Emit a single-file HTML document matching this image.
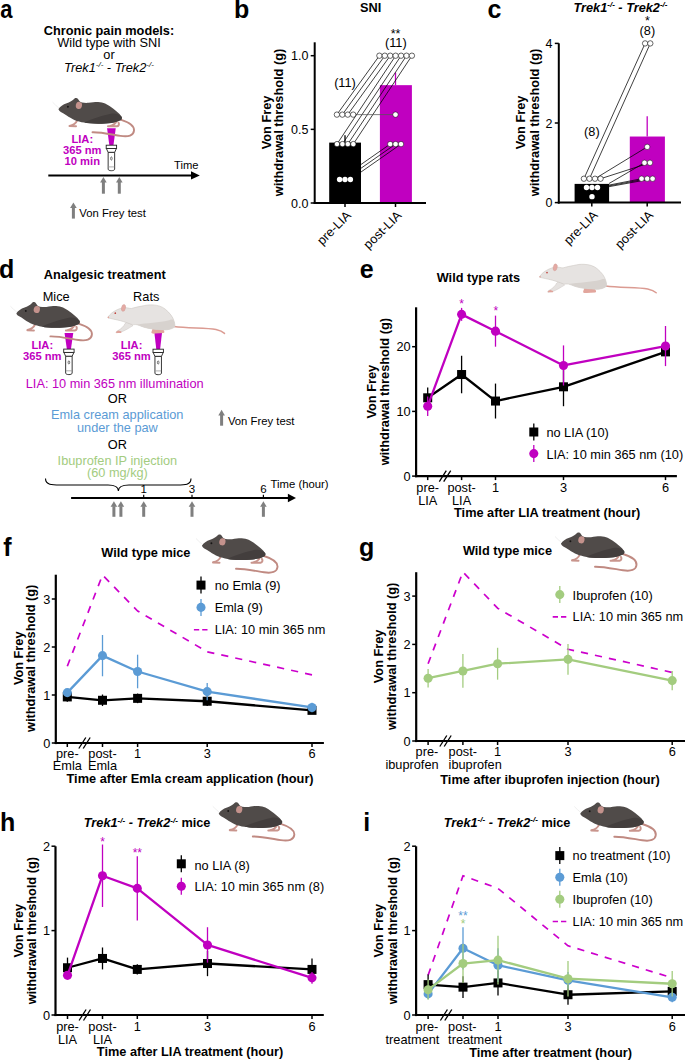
<!DOCTYPE html>
<html><head><meta charset="utf-8"><style>
html,body{margin:0;padding:0;background:#fff;overflow:hidden;}
svg{display:block;font-family:"Liberation Sans",sans-serif;}
</style></head><body>
<svg width="685" height="1060" viewBox="0 0 685 1060" font-family="Liberation Sans, sans-serif">
<defs>
<g id="mouse">
<path d="M62,10.5 C70,13 76,16.5 75.5,21.5 C75,26.5 70,28 62,26.8 C52,25.2 42,23 34,23.2" fill="none" stroke="#c08a82" stroke-width="1.9" stroke-linecap="round"/>
<path d="M18.5,11.5 C17.5,14 15,16 11,16.8 M11,17 L17.5,17.2" fill="none" stroke="#c9958d" stroke-width="2" stroke-linecap="round"/>
<path d="M58,12 C57,14.5 55,16 51,17 M49.5,17.2 L58.5,17.2 C60.5,16.8 60.8,15 60,13.5" fill="none" stroke="#c9958d" stroke-width="2" stroke-linecap="round"/>
<path d="M0,0 C1.5,-2.5 4.5,-4.6 8.2,-5.8 C11,-6.8 13.5,-8 15,-9.5 C15.8,-11.2 18.5,-11.8 19.5,-10 C20.3,-8.5 21.5,-7 23.5,-6.5 C26,-6.2 28,-6.1 30,-6.3 C34,-7 37,-7.3 39.7,-7.2 C45,-6.8 49,-4.8 51.4,-2.9 C56,0.5 61,4 63.1,7.6 C63.8,9 63.2,10.5 61.9,11.1 C57,13.5 50,14.6 39.7,14.6 C33,14.6 29,14 25.7,13.5 C22,13 19,12 16.4,11.1 C13,9.5 10.5,8 8.2,6.5 C6,5 4,3.8 2.3,2.9 C1,2 0,1.2 0,0 Z" fill="#504b49"/>
<path d="M25.7,13.5 C32,10 45,6 52.3,4.6 C56,3.8 60,4.5 63.1,7.6 C63.8,9 63.2,10.5 61.9,11.1 C57,13.5 50,14.6 39.7,14.6 C33,14.6 29,14 25.7,13.5 Z" fill="#433e3d"/>
<ellipse cx="20.4" cy="-3.7" rx="3.1" ry="3.6" fill="#c4928c" transform="rotate(12 20.4 -3.7)"/>
<circle cx="9.4" cy="-2.3" r="0.95" fill="#161414"/>
<path d="M0.5,-1 C-2,-3 -4,-5 -6,-7" stroke="#e4e4e4" stroke-width="0.6" fill="none"/>
</g>
<g id="rat">
<path d="M66,9.5 C80,11.5 98,10.5 108,12.5 C112,13.5 115,15 116.5,16.3" fill="none" stroke="#db9b92" stroke-width="1.5" stroke-linecap="round"/>
<path d="M19,5 C21.5,6.5 24,7.5 25,8.5 C21,11 17,13.5 13,15 L8.2,15.8 C7.5,15.3 8.5,14 10,13.4 C13,12 16,9 17,6.5 Z" fill="#e5e2e0" stroke="#cdc7c2" stroke-width="0.5"/>
<path d="M8.2,15.8 C7.8,15 8.8,13.8 10.5,13.4 L13.5,14.5 L13.2,15.8 Z" fill="#e0a49b"/>
<path d="M45,11 C44,13 43.5,14.5 43.4,15.5 C43.5,16.6 45,16.7 47,16.5 L55.5,16 C57,15.6 56.5,14 55,12.5 Z" fill="#e2a69d"/>
<path d="M0,0 C2,-3 4.5,-5 7,-6.2 C10,-8 13,-9 16,-9.5 C19,-9.6 21,-8.6 23.3,-8.6 C27,-9.5 30,-10.5 33.8,-11 C38,-12 41,-12.3 44.3,-12.2 C50,-12 54,-10.5 57.2,-8 C62,-4 65,0 66,4 C67,7 67,9 66.5,10 C64,12 60,12.8 56,12.8 C50,12.6 45,12 41,11.3 C36,10.5 32,8.5 29,7.6 C27,7.3 25.5,7.6 24.5,7.6 C20,6 16,4.6 12.8,3.7 C8,2.5 3,1.5 0,0.8 Z" fill="#e6e3e1" stroke="#cdc7c2" stroke-width="0.6"/>
<path d="M29,7.6 C38,6 52,5.5 60,3.5 C63,2.5 65,1.5 66,4 C67,7 67,9 66.5,10 C64,12 60,12.8 56,12.8 C50,12.6 45,12 41,11.3 C36,10.5 32,8.5 29,7.6 Z" fill="#d7d2ce"/>
<ellipse cx="15.5" cy="-9.2" rx="2" ry="3.5" fill="#e4aaa4" stroke="#cf9b94" stroke-width="0.4" transform="rotate(12 15.5 -9.2)"/>
<circle cx="7.3" cy="-3.9" r="0.85" fill="#c0463f"/>
<circle cx="0.4" cy="0.3" r="0.8" fill="#e3a49b"/>
</g>
<g id="flash" fill="#fff" stroke="#222" stroke-width="0.9">
<path d="M-3.25,7.1 L3.25,7.1 L3.25,24 C3.25,26 -3.25,26 -3.25,24 Z"/>
<path d="M-5,3.3 L5,3.3 L3.3,7.1 L-3.3,7.1 Z"/>
<rect x="-5.2" y="0" width="10.4" height="3.3"/>
<ellipse cx="0" cy="13.3" rx="0.8" ry="1.6" stroke-width="0.6"/>
<line x1="-3" y1="21.7" x2="3" y2="21.7" stroke="#999" stroke-width="0.8"/>
</g>
</defs>
<rect width="685" height="1060" fill="#fff"/>
<text transform="translate(0.2,18.3) scale(0.88,1)" font-size="25" font-weight="bold">a</text>
<text x="109.00" y="34.60" font-size="12.75" text-anchor="middle" font-weight="bold" fill="#000" >Chronic pain models:</text>
<text x="109.00" y="46.70" font-size="12.75" text-anchor="middle" fill="#000" >Wild type with SNI</text>
<text x="109.00" y="59.40" font-size="12.75" text-anchor="middle" fill="#000" >or</text>
<text x="109" y="71.8" font-size="12.75" text-anchor="middle" font-style="italic">Trek1<tspan font-size="8" dy="-4.5">-/-</tspan><tspan dy="4.5"> - Trek2</tspan><tspan font-size="8" dy="-4.5">-/-</tspan></text>
<polygon points="107.05,128.3 115.75,128.3 113.45,145.2 109.35,145.2" fill="#c000c0"/>
<use href="#mouse" transform="translate(58.5,109.1) scale(1.0)"/>
<use href="#flash" transform="translate(111.4,145.2)"/>
<text x="82.30" y="142.50" font-size="11.2" text-anchor="middle" font-weight="bold" fill="#c000c0" >LIA:</text>
<text x="82.30" y="153.90" font-size="11.2" text-anchor="middle" font-weight="bold" fill="#c000c0" >365 nm</text>
<text x="82.30" y="165.20" font-size="11.2" text-anchor="middle" font-weight="bold" fill="#c000c0" >10 min</text>
<line x1="48.30" y1="175.40" x2="192.00" y2="175.40" stroke="#000" stroke-width="2" />
<polygon points="191,171.2 199.8,175.4 191,179.6" fill="#000"/>
<text x="198.50" y="169.00" font-size="11.2" text-anchor="end" fill="#000" >Time</text>
<line x1="103.4" y1="181.9" x2="103.4" y2="193.7" stroke="#7f7f7f" stroke-width="3.0"/>
<polygon points="100.10000000000001,182.5 103.4,176.9 106.7,182.5" fill="#7f7f7f"/>
<line x1="119.3" y1="181.9" x2="119.3" y2="193.7" stroke="#7f7f7f" stroke-width="3.0"/>
<polygon points="116.0,182.5 119.3,176.9 122.6,182.5" fill="#7f7f7f"/>
<line x1="73.4" y1="207.5" x2="73.4" y2="218.6" stroke="#7f7f7f" stroke-width="3.0"/>
<polygon points="70.10000000000001,208.1 73.4,202.5 76.7,208.1" fill="#7f7f7f"/>
<text x="79.30" y="217.20" font-size="11.3" text-anchor="start" fill="#000" >Von Frey test</text>
<text x="234.00" y="17.80" font-size="25" text-anchor="start" font-weight="bold" fill="#000" >b</text>
<text x="370.70" y="11.75" font-size="12.75" text-anchor="middle" font-weight="bold" fill="#000" >SNI</text>
<rect x="329.20" y="142.61" width="31.80" height="60.39" fill="#000"/>
<rect x="379.90" y="85.16" width="32.00" height="117.84" fill="#c000c0"/>
<line x1="345.00" y1="142.61" x2="345.00" y2="135.24" stroke="#000" stroke-width="1.3" />
<line x1="395.50" y1="85.16" x2="395.50" y2="72.64" stroke="#c000c0" stroke-width="1.3" />
<line x1="336.90" y1="114.62" x2="379.40" y2="55.70" stroke="#000" stroke-width="0.75" />
<line x1="342.33" y1="114.62" x2="384.82" y2="55.70" stroke="#000" stroke-width="0.75" />
<line x1="347.76" y1="114.62" x2="390.24" y2="55.70" stroke="#000" stroke-width="0.75" />
<line x1="337.00" y1="144.08" x2="395.66" y2="55.70" stroke="#000" stroke-width="0.75" />
<line x1="342.43" y1="144.08" x2="401.08" y2="55.70" stroke="#000" stroke-width="0.75" />
<line x1="347.86" y1="144.08" x2="406.50" y2="55.70" stroke="#000" stroke-width="0.75" />
<line x1="353.29" y1="144.08" x2="411.92" y2="55.70" stroke="#000" stroke-width="0.75" />
<line x1="339.60" y1="179.43" x2="390.20" y2="144.08" stroke="#000" stroke-width="0.75" />
<line x1="345.00" y1="179.43" x2="395.60" y2="144.08" stroke="#000" stroke-width="0.75" />
<line x1="350.40" y1="179.43" x2="401.00" y2="144.08" stroke="#000" stroke-width="0.75" />
<line x1="353.19" y1="114.62" x2="395.50" y2="114.62" stroke="#555" stroke-width="0.75" />
<circle cx="379.40" cy="55.70" r="2.7" fill="#fff" stroke="#000" stroke-width="0.6"/>
<circle cx="384.82" cy="55.70" r="2.7" fill="#fff" stroke="#000" stroke-width="0.6"/>
<circle cx="390.24" cy="55.70" r="2.7" fill="#fff" stroke="#000" stroke-width="0.6"/>
<circle cx="395.66" cy="55.70" r="2.7" fill="#fff" stroke="#000" stroke-width="0.6"/>
<circle cx="401.08" cy="55.70" r="2.7" fill="#fff" stroke="#000" stroke-width="0.6"/>
<circle cx="406.50" cy="55.70" r="2.7" fill="#fff" stroke="#000" stroke-width="0.6"/>
<circle cx="411.92" cy="55.70" r="2.7" fill="#fff" stroke="#000" stroke-width="0.6"/>
<circle cx="336.90" cy="114.62" r="2.7" fill="#fff" stroke="#000" stroke-width="0.6"/>
<circle cx="342.33" cy="114.62" r="2.7" fill="#fff" stroke="#000" stroke-width="0.6"/>
<circle cx="347.76" cy="114.62" r="2.7" fill="#fff" stroke="#000" stroke-width="0.6"/>
<circle cx="353.19" cy="114.62" r="2.7" fill="#fff" stroke="#000" stroke-width="0.6"/>
<circle cx="337.00" cy="144.08" r="2.7" fill="#fff" stroke="#000" stroke-width="0.6"/>
<circle cx="342.43" cy="144.08" r="2.7" fill="#fff" stroke="#000" stroke-width="0.6"/>
<circle cx="347.86" cy="144.08" r="2.7" fill="#fff" stroke="#000" stroke-width="0.6"/>
<circle cx="353.29" cy="144.08" r="2.7" fill="#fff" stroke="#000" stroke-width="0.6"/>
<circle cx="339.60" cy="179.43" r="2.7" fill="#fff" stroke="none" stroke-width="0"/>
<circle cx="345.00" cy="179.43" r="2.7" fill="#fff" stroke="none" stroke-width="0"/>
<circle cx="350.40" cy="179.43" r="2.7" fill="#fff" stroke="none" stroke-width="0"/>
<circle cx="390.20" cy="144.08" r="2.7" fill="#fff" stroke="#000" stroke-width="0.5"/>
<circle cx="395.60" cy="144.08" r="2.7" fill="#fff" stroke="#000" stroke-width="0.5"/>
<circle cx="401.00" cy="144.08" r="2.7" fill="#fff" stroke="#000" stroke-width="0.5"/>
<circle cx="395.50" cy="114.62" r="2.7" fill="#fff" stroke="#000" stroke-width="0.5"/>
<line x1="314.70" y1="42.30" x2="314.70" y2="204.00" stroke="#000" stroke-width="2" />
<line x1="313.70" y1="203.00" x2="426.00" y2="203.00" stroke="#000" stroke-width="2" />
<line x1="310.70" y1="203.00" x2="314.70" y2="203.00" stroke="#000" stroke-width="1.5" />
<text x="308.40" y="207.60" font-size="12.5" text-anchor="end" fill="#000" >0.0</text>
<line x1="310.70" y1="129.35" x2="314.70" y2="129.35" stroke="#000" stroke-width="1.5" />
<text x="308.40" y="133.95" font-size="12.5" text-anchor="end" fill="#000" >0.5</text>
<line x1="310.70" y1="55.70" x2="314.70" y2="55.70" stroke="#000" stroke-width="1.5" />
<text x="308.40" y="60.30" font-size="12.5" text-anchor="end" fill="#000" >1.0</text>
<line x1="345.00" y1="203.00" x2="345.00" y2="207.00" stroke="#000" stroke-width="1.5" />
<line x1="395.50" y1="203.00" x2="395.50" y2="207.00" stroke="#000" stroke-width="1.5" />
<text x="345.00" y="87.10" font-size="12.75" text-anchor="middle" fill="#000" >(11)</text>
<text x="395.80" y="47.30" font-size="12.75" text-anchor="middle" fill="#000" >(11)</text>
<text x="395.50" y="37.50" font-size="12.5" text-anchor="middle" fill="#000" >**</text>
<text transform="translate(270.70,122.50) rotate(-90)" font-size="12.75" font-weight="bold" text-anchor="middle">Von Frey</text>
<text transform="translate(283.20,122.50) rotate(-90)" font-size="12.75" font-weight="bold" text-anchor="middle">withdrawal threshold (g)</text>
<text transform="translate(351.7,216.2) rotate(-45)" font-size="12.75" text-anchor="end">pre-LIA</text>
<text transform="translate(402.2,216.2) rotate(-45)" font-size="12.75" text-anchor="end">post-LIA</text>
<text x="487.40" y="18.30" font-size="25" text-anchor="start" font-weight="bold" fill="#000" >c</text>
<text x="620.5" y="11.8" font-size="12.75" text-anchor="middle" font-style="italic" font-weight="bold">Trek1<tspan font-size="8" dy="-4.5">-/-</tspan><tspan dy="4.5"> - Trek2</tspan><tspan font-size="8" dy="-4.5">-/-</tspan></text>
<rect x="574.60" y="183.89" width="34.50" height="18.71" fill="#000"/>
<rect x="629.80" y="136.53" width="35.10" height="66.07" fill="#c000c0"/>
<line x1="647.20" y1="136.53" x2="647.20" y2="116.23" stroke="#c000c0" stroke-width="1.3" />
<line x1="583.90" y1="178.72" x2="645.10" y2="43.40" stroke="#000" stroke-width="0.75" />
<line x1="589.45" y1="178.72" x2="650.30" y2="43.40" stroke="#000" stroke-width="0.75" />
<line x1="595.00" y1="178.72" x2="647.20" y2="146.88" stroke="#000" stroke-width="0.75" />
<line x1="600.55" y1="178.72" x2="650.00" y2="162.80" stroke="#000" stroke-width="0.75" />
<line x1="609.00" y1="185.09" x2="641.60" y2="178.72" stroke="#000" stroke-width="0.75" />
<line x1="609.00" y1="185.88" x2="647.20" y2="178.72" stroke="#000" stroke-width="0.75" />
<line x1="609.00" y1="186.68" x2="652.60" y2="178.72" stroke="#000" stroke-width="0.75" />
<line x1="609.00" y1="183.50" x2="644.50" y2="162.80" stroke="#000" stroke-width="0.75" />
<circle cx="583.90" cy="178.72" r="2.7" fill="#fff" stroke="#000" stroke-width="0.6"/>
<circle cx="589.45" cy="178.72" r="2.7" fill="#fff" stroke="#000" stroke-width="0.6"/>
<circle cx="595.00" cy="178.72" r="2.7" fill="#fff" stroke="#000" stroke-width="0.6"/>
<circle cx="600.55" cy="178.72" r="2.7" fill="#fff" stroke="#000" stroke-width="0.6"/>
<circle cx="586.50" cy="187.48" r="2.7" fill="#fff" stroke="none" stroke-width="0"/>
<circle cx="592.00" cy="187.48" r="2.7" fill="#fff" stroke="none" stroke-width="0"/>
<circle cx="597.50" cy="187.48" r="2.7" fill="#fff" stroke="none" stroke-width="0"/>
<circle cx="592.00" cy="196.63" r="2.7" fill="#fff" stroke="none" stroke-width="0"/>
<circle cx="645.10" cy="43.40" r="2.7" fill="#fff" stroke="#000" stroke-width="0.6"/>
<circle cx="650.30" cy="43.40" r="2.7" fill="#fff" stroke="#000" stroke-width="0.6"/>
<circle cx="647.20" cy="146.88" r="2.7" fill="#fff" stroke="#000" stroke-width="0.5"/>
<circle cx="644.50" cy="162.80" r="2.7" fill="#fff" stroke="#000" stroke-width="0.5"/>
<circle cx="650.00" cy="162.80" r="2.7" fill="#fff" stroke="#000" stroke-width="0.5"/>
<circle cx="641.60" cy="178.72" r="2.7" fill="#fff" stroke="#000" stroke-width="0.5"/>
<circle cx="647.20" cy="178.72" r="2.7" fill="#fff" stroke="#000" stroke-width="0.5"/>
<circle cx="652.60" cy="178.72" r="2.7" fill="#fff" stroke="#000" stroke-width="0.5"/>
<line x1="558.80" y1="43.30" x2="558.80" y2="203.60" stroke="#000" stroke-width="2" />
<line x1="557.80" y1="202.60" x2="681.00" y2="202.60" stroke="#000" stroke-width="2" />
<line x1="554.80" y1="202.60" x2="558.80" y2="202.60" stroke="#000" stroke-width="1.5" />
<text x="552.50" y="207.20" font-size="12.5" text-anchor="end" fill="#000" >0</text>
<line x1="554.80" y1="123.00" x2="558.80" y2="123.00" stroke="#000" stroke-width="1.5" />
<text x="552.50" y="127.60" font-size="12.5" text-anchor="end" fill="#000" >2</text>
<line x1="554.80" y1="43.40" x2="558.80" y2="43.40" stroke="#000" stroke-width="1.5" />
<text x="552.50" y="48.00" font-size="12.5" text-anchor="end" fill="#000" >4</text>
<line x1="591.80" y1="202.60" x2="591.80" y2="206.60" stroke="#000" stroke-width="1.5" />
<line x1="647.20" y1="202.60" x2="647.20" y2="206.60" stroke="#000" stroke-width="1.5" />
<text x="591.90" y="135.60" font-size="12.75" text-anchor="middle" fill="#000" >(8)</text>
<text x="647.40" y="35.10" font-size="12.75" text-anchor="middle" fill="#000" >(8)</text>
<text x="647.40" y="24.50" font-size="12.5" text-anchor="middle" fill="#000" >*</text>
<text transform="translate(524.90,122.50) rotate(-90)" font-size="12.75" font-weight="bold" text-anchor="middle">Von Frey</text>
<text transform="translate(539.10,122.50) rotate(-90)" font-size="12.75" font-weight="bold" text-anchor="middle">withdrawal threshold (g)</text>
<text transform="translate(598.5,216.0) rotate(-45)" font-size="12.75" text-anchor="end">pre-LIA</text>
<text transform="translate(653.9,216.0) rotate(-45)" font-size="12.75" text-anchor="end">post-LIA</text>
<text x="-1.00" y="277.70" font-size="25" text-anchor="start" font-weight="bold" fill="#000" >d</text>
<text x="43.80" y="278.70" font-size="12.75" text-anchor="start" font-weight="bold" fill="#000" >Analgesic treatment</text>
<text x="56.20" y="300.60" font-size="12.75" text-anchor="middle" fill="#000" >Mice</text>
<text x="146.20" y="300.60" font-size="12.75" text-anchor="middle" fill="#000" >Rats</text>
<polygon points="64.55,333.1 73.25,333.1 70.95,349.1 66.85,349.1" fill="#c000c0"/>
<polygon points="154.40,332.7 162.00,332.7 160.10,349.2 156.30,349.2" fill="#c000c0"/>
<use href="#mouse" transform="translate(16.4,313.2) scale(1.0)"/>
<use href="#rat" transform="translate(108,317.1) scale(1.0)"/>
<use href="#flash" transform="translate(68.9,349.1)"/>
<use href="#flash" transform="translate(158.2,349.2)"/>
<text x="42.30" y="348.90" font-size="11.2" text-anchor="middle" font-weight="bold" fill="#c000c0" >LIA:</text>
<text x="42.30" y="360.00" font-size="11.2" text-anchor="middle" font-weight="bold" fill="#c000c0" >365 nm</text>
<text x="131.50" y="348.90" font-size="11.2" text-anchor="middle" font-weight="bold" fill="#c000c0" >LIA:</text>
<text x="131.50" y="360.00" font-size="11.2" text-anchor="middle" font-weight="bold" fill="#c000c0" >365 nm</text>
<text x="114.70" y="387.50" font-size="12.75" text-anchor="middle" fill="#c000c0" >LIA: 10 min 365 nm illumination</text>
<text x="117.40" y="403.30" font-size="12.75" text-anchor="middle" fill="#000" >OR</text>
<text x="117.20" y="419.00" font-size="12.75" text-anchor="middle" fill="#5b9bd5" >Emla cream application</text>
<text x="117.40" y="432.30" font-size="12.75" text-anchor="middle" fill="#5b9bd5" >under the paw</text>
<text x="117.40" y="448.80" font-size="12.75" text-anchor="middle" fill="#000" >OR</text>
<text x="117.40" y="465.30" font-size="12.75" text-anchor="middle" fill="#a3cc7f" >Ibuprofen IP injection</text>
<text x="117.40" y="476.90" font-size="12.75" text-anchor="middle" fill="#a3cc7f" >(60 mg/kg)</text>
<path d="M45.5,478.6 C45.5,485 52,485 60,485 L108,485 C114,485 118.4,487 118.4,491 C118.4,487 123,485 129,485 L177,485 C185,485 191,485 191,478.6" fill="none" stroke="#000" stroke-width="1.1"/>
<line x1="71.10" y1="498.00" x2="288.00" y2="498.00" stroke="#000" stroke-width="2" />
<polygon points="287.9,493.8 296,498 287.9,502.2" fill="#000"/>
<text x="143.70" y="493.30" font-size="11.5" text-anchor="middle" fill="#000" >1</text>
<text x="192.00" y="493.30" font-size="11.5" text-anchor="middle" fill="#000" >3</text>
<text x="263.40" y="493.30" font-size="11.5" text-anchor="middle" fill="#000" >6</text>
<line x1="143.70" y1="494.80" x2="143.70" y2="498.00" stroke="#000" stroke-width="1.2" />
<line x1="192.00" y1="494.80" x2="192.00" y2="498.00" stroke="#000" stroke-width="1.2" />
<line x1="263.40" y1="494.80" x2="263.40" y2="498.00" stroke="#000" stroke-width="1.2" />
<line x1="113.9" y1="506.2" x2="113.9" y2="516.8" stroke="#7f7f7f" stroke-width="3.0"/>
<polygon points="110.60000000000001,506.8 113.9,501.2 117.2,506.8" fill="#7f7f7f"/>
<line x1="120.9" y1="506.2" x2="120.9" y2="516.8" stroke="#7f7f7f" stroke-width="3.0"/>
<polygon points="117.60000000000001,506.8 120.9,501.2 124.2,506.8" fill="#7f7f7f"/>
<line x1="143.7" y1="506.2" x2="143.7" y2="516.8" stroke="#7f7f7f" stroke-width="3.0"/>
<polygon points="140.39999999999998,506.8 143.7,501.2 147.0,506.8" fill="#7f7f7f"/>
<line x1="192" y1="506.2" x2="192" y2="516.8" stroke="#7f7f7f" stroke-width="3.0"/>
<polygon points="188.7,506.8 192,501.2 195.3,506.8" fill="#7f7f7f"/>
<line x1="263.4" y1="506.2" x2="263.4" y2="516.8" stroke="#7f7f7f" stroke-width="3.0"/>
<polygon points="260.09999999999997,506.8 263.4,501.2 266.7,506.8" fill="#7f7f7f"/>
<text x="270.60" y="488.30" font-size="11.3" text-anchor="start" fill="#000" >Time (hour)</text>
<line x1="221.6" y1="414.8" x2="221.6" y2="425.7" stroke="#7f7f7f" stroke-width="3.0"/>
<polygon points="218.29999999999998,415.40000000000003 221.6,409.8 224.9,415.40000000000003" fill="#7f7f7f"/>
<text x="227.90" y="424.50" font-size="11.3" text-anchor="start" fill="#000" >Von Frey test</text>
<text x="359.70" y="277.60" font-size="25" text-anchor="start" font-weight="bold" fill="#000" >e</text>
<text x="436.70" y="282.00" font-size="12.75" text-anchor="start" font-weight="bold" fill="#000" >Wild type rats</text>
<use href="#rat" transform="translate(539.7,276.5) scale(1.0)"/>
<line x1="416.10" y1="307.30" x2="416.10" y2="477.20" stroke="#000" stroke-width="2.2" />
<line x1="415.00" y1="476.10" x2="676.90" y2="476.10" stroke="#000" stroke-width="2.2" />
<line x1="412.10" y1="476.10" x2="416.10" y2="476.10" stroke="#000" stroke-width="1.5" />
<text x="410.60" y="480.60" font-size="12.75" text-anchor="end" fill="#000" >0</text>
<line x1="412.10" y1="411.40" x2="416.10" y2="411.40" stroke="#000" stroke-width="1.5" />
<text x="410.60" y="415.90" font-size="12.75" text-anchor="end" fill="#000" >10</text>
<line x1="412.10" y1="346.70" x2="416.10" y2="346.70" stroke="#000" stroke-width="1.5" />
<text x="410.60" y="351.20" font-size="12.75" text-anchor="end" fill="#000" >20</text>
<line x1="427.70" y1="476.10" x2="427.70" y2="480.10" stroke="#000" stroke-width="1.5" />
<text x="427.70" y="492.30" font-size="12.75" text-anchor="middle" fill="#000" >pre-</text>
<text x="427.70" y="504.70" font-size="12.75" text-anchor="middle" fill="#000" >LIA</text>
<line x1="461.60" y1="476.10" x2="461.60" y2="480.10" stroke="#000" stroke-width="1.5" />
<text x="461.60" y="492.30" font-size="12.75" text-anchor="middle" fill="#000" >post-</text>
<text x="461.60" y="504.70" font-size="12.75" text-anchor="middle" fill="#000" >LIA</text>
<line x1="495.50" y1="476.10" x2="495.50" y2="480.10" stroke="#000" stroke-width="1.5" />
<text x="495.50" y="492.30" font-size="12.75" text-anchor="middle" fill="#000" >1</text>
<line x1="563.50" y1="476.10" x2="563.50" y2="480.10" stroke="#000" stroke-width="1.5" />
<text x="563.50" y="492.30" font-size="12.75" text-anchor="middle" fill="#000" >3</text>
<line x1="665.50" y1="476.10" x2="665.50" y2="480.10" stroke="#000" stroke-width="1.5" />
<text x="665.50" y="492.30" font-size="12.75" text-anchor="middle" fill="#000" >6</text>
<line x1="439.30" y1="481.60" x2="446.30" y2="470.60" stroke="#000" stroke-width="1.3" />
<line x1="443.70" y1="481.60" x2="450.70" y2="470.60" stroke="#000" stroke-width="1.3" />
<line x1="427.70" y1="387.46" x2="427.70" y2="408.17" stroke="#000" stroke-width="1.3" />
<line x1="461.60" y1="355.76" x2="461.60" y2="393.28" stroke="#000" stroke-width="1.3" />
<line x1="495.50" y1="383.58" x2="495.50" y2="418.52" stroke="#000" stroke-width="1.3" />
<line x1="563.50" y1="367.40" x2="563.50" y2="406.22" stroke="#000" stroke-width="1.3" />
<line x1="665.50" y1="347.99" x2="665.50" y2="355.76" stroke="#000" stroke-width="1.3" />
<polyline points="427.70,397.81 461.60,374.52 495.50,401.05 563.50,386.81 665.50,351.88" fill="none" stroke="#000" stroke-width="2.3" stroke-linejoin="round" />
<rect x="423.20" y="393.31" width="9.00" height="9.00" fill="#000"/>
<rect x="457.10" y="370.02" width="9.00" height="9.00" fill="#000"/>
<rect x="491.00" y="396.55" width="9.00" height="9.00" fill="#000"/>
<rect x="559.00" y="382.31" width="9.00" height="9.00" fill="#000"/>
<rect x="661.00" y="347.38" width="9.00" height="9.00" fill="#000"/>
<line x1="427.70" y1="396.52" x2="427.70" y2="415.93" stroke="#c000c0" stroke-width="1.3" />
<line x1="461.60" y1="307.88" x2="461.60" y2="320.82" stroke="#c000c0" stroke-width="1.3" />
<line x1="495.50" y1="315.64" x2="495.50" y2="346.70" stroke="#c000c0" stroke-width="1.3" />
<line x1="563.50" y1="345.41" x2="563.50" y2="385.52" stroke="#c000c0" stroke-width="1.3" />
<line x1="665.50" y1="326.00" x2="665.50" y2="366.11" stroke="#c000c0" stroke-width="1.3" />
<polyline points="427.70,406.22 461.60,314.35 495.50,331.17 563.50,365.46 665.50,346.05" fill="none" stroke="#c000c0" stroke-width="2.3" stroke-linejoin="round" />
<circle cx="427.70" cy="406.22" r="4.55" fill="#c000c0" stroke="none" stroke-width="0"/>
<circle cx="461.60" cy="314.35" r="4.55" fill="#c000c0" stroke="none" stroke-width="0"/>
<circle cx="495.50" cy="331.17" r="4.55" fill="#c000c0" stroke="none" stroke-width="0"/>
<circle cx="563.50" cy="365.46" r="4.55" fill="#c000c0" stroke="none" stroke-width="0"/>
<circle cx="665.50" cy="346.05" r="4.55" fill="#c000c0" stroke="none" stroke-width="0"/>
<text x="461.60" y="307.60" font-size="12" text-anchor="middle" fill="#c000c0" >*</text>
<text x="495.80" y="314.80" font-size="12" text-anchor="middle" fill="#c000c0" >*</text>
<text transform="translate(375.80,391.70) rotate(-90)" font-size="12.75" font-weight="bold" text-anchor="middle">Von Frey</text>
<text transform="translate(388.90,391.70) rotate(-90)" font-size="12.75" font-weight="bold" text-anchor="middle">withdrawal threshold (g)</text>
<text x="547.20" y="516.50" font-size="12.75" text-anchor="middle" font-weight="bold" fill="#000" >Time after LIA treatment (hour)</text>
<line x1="533.80" y1="423.50" x2="533.80" y2="440.50" stroke="#000" stroke-width="1.3" />
<rect x="529.30" y="427.50" width="9.00" height="9.00" fill="#000"/>
<text x="546.40" y="436.60" font-size="12.75" text-anchor="start" fill="#000" >no LIA (10)</text>
<line x1="533.80" y1="445.10" x2="533.80" y2="462.10" stroke="#c000c0" stroke-width="1.3" />
<circle cx="533.80" cy="453.60" r="4.55" fill="#c000c0" stroke="none" stroke-width="0"/>
<text x="546.40" y="458.80" font-size="12.75" text-anchor="start" fill="#000" >LIA: 10 min 365 nm (10)</text>
<text x="3.30" y="555.70" font-size="25" text-anchor="start" font-weight="bold" fill="#000" >f</text>
<text x="101.30" y="556.80" font-size="12.75" text-anchor="start" font-weight="bold" fill="#000" >Wild type mice</text>
<use href="#mouse" transform="translate(202,545.5) scale(1.0)"/>
<line x1="55.80" y1="574.70" x2="55.80" y2="744.10" stroke="#000" stroke-width="2.2" />
<line x1="54.70" y1="743.00" x2="323.90" y2="743.00" stroke="#000" stroke-width="2.2" />
<line x1="51.80" y1="743.00" x2="55.80" y2="743.00" stroke="#000" stroke-width="1.5" />
<text x="50.30" y="747.50" font-size="12.75" text-anchor="end" fill="#000" >0</text>
<line x1="51.80" y1="695.00" x2="55.80" y2="695.00" stroke="#000" stroke-width="1.5" />
<text x="50.30" y="699.50" font-size="12.75" text-anchor="end" fill="#000" >1</text>
<line x1="51.80" y1="647.00" x2="55.80" y2="647.00" stroke="#000" stroke-width="1.5" />
<text x="50.30" y="651.50" font-size="12.75" text-anchor="end" fill="#000" >2</text>
<line x1="51.80" y1="599.00" x2="55.80" y2="599.00" stroke="#000" stroke-width="1.5" />
<text x="50.30" y="603.50" font-size="12.75" text-anchor="end" fill="#000" >3</text>
<line x1="67.30" y1="743.00" x2="67.30" y2="747.00" stroke="#000" stroke-width="1.5" />
<text x="67.30" y="758.00" font-size="12.75" text-anchor="middle" fill="#000" >pre-</text>
<text x="67.30" y="770.00" font-size="12.75" text-anchor="middle" fill="#000" >Emla</text>
<line x1="102.50" y1="743.00" x2="102.50" y2="747.00" stroke="#000" stroke-width="1.5" />
<text x="102.50" y="758.00" font-size="12.75" text-anchor="middle" fill="#000" >post-</text>
<text x="102.50" y="770.00" font-size="12.75" text-anchor="middle" fill="#000" >Emla</text>
<line x1="137.60" y1="743.00" x2="137.60" y2="747.00" stroke="#000" stroke-width="1.5" />
<text x="137.60" y="758.00" font-size="12.75" text-anchor="middle" fill="#000" >1</text>
<line x1="207.20" y1="743.00" x2="207.20" y2="747.00" stroke="#000" stroke-width="1.5" />
<text x="207.20" y="758.00" font-size="12.75" text-anchor="middle" fill="#000" >3</text>
<line x1="312.00" y1="743.00" x2="312.00" y2="747.00" stroke="#000" stroke-width="1.5" />
<text x="312.00" y="758.00" font-size="12.75" text-anchor="middle" fill="#000" >6</text>
<line x1="78.80" y1="748.50" x2="85.80" y2="737.50" stroke="#000" stroke-width="1.3" />
<line x1="83.20" y1="748.50" x2="90.20" y2="737.50" stroke="#000" stroke-width="1.3" />
<polyline points="67.30,666.20 102.50,575.00 137.60,611.00 207.20,651.80 312.00,674.84" fill="none" stroke="#cc00cc" stroke-width="1.7" stroke-linejoin="round" stroke-dasharray="7.2 7.1"/>
<line x1="67.30" y1="692.12" x2="67.30" y2="701.72" stroke="#000" stroke-width="1.3" />
<line x1="102.50" y1="694.52" x2="102.50" y2="706.04" stroke="#000" stroke-width="1.3" />
<line x1="137.60" y1="693.56" x2="137.60" y2="703.16" stroke="#000" stroke-width="1.3" />
<line x1="207.20" y1="696.44" x2="207.20" y2="706.04" stroke="#000" stroke-width="1.3" />
<line x1="312.00" y1="707.96" x2="312.00" y2="712.76" stroke="#000" stroke-width="1.3" />
<polyline points="67.30,696.92 102.50,700.28 137.60,698.36 207.20,701.24 312.00,710.36" fill="none" stroke="#000" stroke-width="2.3" stroke-linejoin="round" />
<rect x="62.80" y="692.42" width="9.00" height="9.00" fill="#000"/>
<rect x="98.00" y="695.78" width="9.00" height="9.00" fill="#000"/>
<rect x="133.10" y="693.86" width="9.00" height="9.00" fill="#000"/>
<rect x="202.70" y="696.74" width="9.00" height="9.00" fill="#000"/>
<rect x="307.50" y="705.86" width="9.00" height="9.00" fill="#000"/>
<line x1="67.30" y1="690.20" x2="67.30" y2="695.00" stroke="#5b9bd5" stroke-width="1.3" />
<line x1="102.50" y1="635.00" x2="102.50" y2="676.28" stroke="#5b9bd5" stroke-width="1.3" />
<line x1="137.60" y1="654.68" x2="137.60" y2="688.28" stroke="#5b9bd5" stroke-width="1.3" />
<line x1="207.20" y1="683.00" x2="207.20" y2="700.28" stroke="#5b9bd5" stroke-width="1.3" />
<line x1="312.00" y1="702.68" x2="312.00" y2="712.28" stroke="#5b9bd5" stroke-width="1.3" />
<polyline points="67.30,692.60 102.50,655.64 137.60,671.48 207.20,691.64 312.00,707.48" fill="none" stroke="#5b9bd5" stroke-width="2.3" stroke-linejoin="round" />
<circle cx="67.30" cy="692.60" r="4.55" fill="#5b9bd5" stroke="none" stroke-width="0"/>
<circle cx="102.50" cy="655.64" r="4.55" fill="#5b9bd5" stroke="none" stroke-width="0"/>
<circle cx="137.60" cy="671.48" r="4.55" fill="#5b9bd5" stroke="none" stroke-width="0"/>
<circle cx="207.20" cy="691.64" r="4.55" fill="#5b9bd5" stroke="none" stroke-width="0"/>
<circle cx="312.00" cy="707.48" r="4.55" fill="#5b9bd5" stroke="none" stroke-width="0"/>
<text transform="translate(22.70,658.30) rotate(-90)" font-size="12.75" font-weight="bold" text-anchor="middle">Von Frey</text>
<text transform="translate(35.30,658.30) rotate(-90)" font-size="12.75" font-weight="bold" text-anchor="middle">withdrawal threshold (g)</text>
<text x="190.10" y="783.40" font-size="12.75" text-anchor="middle" font-weight="bold" fill="#000" >Time after Emla cream application (hour)</text>
<line x1="201.00" y1="576.60" x2="201.00" y2="593.60" stroke="#000" stroke-width="1.3" />
<rect x="196.50" y="580.60" width="9.00" height="9.00" fill="#000"/>
<text x="214.70" y="590.00" font-size="12.75" text-anchor="start" fill="#000" >no Emla (9)</text>
<line x1="201.00" y1="598.90" x2="201.00" y2="615.90" stroke="#5b9bd5" stroke-width="1.3" />
<circle cx="201.00" cy="607.40" r="4.55" fill="#5b9bd5" stroke="none" stroke-width="0"/>
<text x="214.70" y="612.40" font-size="12.75" text-anchor="start" fill="#000" >Emla (9)</text>
<line x1="193.90" y1="629.80" x2="208.00" y2="629.80" stroke="#cc00cc" stroke-width="1.6" stroke-dasharray="5.3 3"/>
<text x="214.70" y="633.70" font-size="12.75" text-anchor="start" fill="#000" >LIA: 10 min 365 nm</text>
<text x="358.90" y="555.50" font-size="25" text-anchor="start" font-weight="bold" fill="#000" >g</text>
<text x="462.90" y="554.80" font-size="12.75" text-anchor="start" font-weight="bold" fill="#000" >Wild type mice</text>
<use href="#mouse" transform="translate(561,543.5) scale(1.0)"/>
<line x1="416.20" y1="572.20" x2="416.20" y2="742.10" stroke="#000" stroke-width="2.2" />
<line x1="415.10" y1="741.00" x2="685.00" y2="741.00" stroke="#000" stroke-width="2.2" />
<line x1="412.20" y1="741.00" x2="416.20" y2="741.00" stroke="#000" stroke-width="1.5" />
<text x="410.70" y="745.50" font-size="12.75" text-anchor="end" fill="#000" >0</text>
<line x1="412.20" y1="692.70" x2="416.20" y2="692.70" stroke="#000" stroke-width="1.5" />
<text x="410.70" y="697.20" font-size="12.75" text-anchor="end" fill="#000" >1</text>
<line x1="412.20" y1="644.40" x2="416.20" y2="644.40" stroke="#000" stroke-width="1.5" />
<text x="410.70" y="648.90" font-size="12.75" text-anchor="end" fill="#000" >2</text>
<line x1="412.20" y1="596.10" x2="416.20" y2="596.10" stroke="#000" stroke-width="1.5" />
<text x="410.70" y="600.60" font-size="12.75" text-anchor="end" fill="#000" >3</text>
<line x1="428.10" y1="741.00" x2="428.10" y2="745.00" stroke="#000" stroke-width="1.5" />
<text x="428.10" y="756.10" font-size="12.75" text-anchor="middle" fill="#000" ></text>
<line x1="462.90" y1="741.00" x2="462.90" y2="745.00" stroke="#000" stroke-width="1.5" />
<text x="462.90" y="756.10" font-size="12.75" text-anchor="middle" fill="#000" ></text>
<line x1="497.60" y1="741.00" x2="497.60" y2="745.00" stroke="#000" stroke-width="1.5" />
<text x="497.60" y="756.10" font-size="12.75" text-anchor="middle" fill="#000" >1</text>
<line x1="568.00" y1="741.00" x2="568.00" y2="745.00" stroke="#000" stroke-width="1.5" />
<text x="568.00" y="756.10" font-size="12.75" text-anchor="middle" fill="#000" >3</text>
<line x1="672.20" y1="741.00" x2="672.20" y2="745.00" stroke="#000" stroke-width="1.5" />
<text x="672.20" y="756.10" font-size="12.75" text-anchor="middle" fill="#000" >6</text>
<line x1="439.80" y1="746.50" x2="446.80" y2="735.50" stroke="#000" stroke-width="1.3" />
<line x1="444.20" y1="746.50" x2="451.20" y2="735.50" stroke="#000" stroke-width="1.3" />
<text x="426.90" y="756.10" font-size="12.75" text-anchor="middle" fill="#000" >pre-</text>
<text x="438.60" y="768.60" font-size="12.75" text-anchor="end" fill="#000" >ibuprofen</text>
<text x="448.60" y="756.10" font-size="12.75" text-anchor="start" fill="#000" >post-</text>
<text x="448.60" y="768.60" font-size="12.75" text-anchor="start" fill="#000" >ibuprofen</text>
<polyline points="428.10,663.72 462.90,571.95 497.60,608.17 568.00,649.23 672.20,672.41" fill="none" stroke="#cc00cc" stroke-width="1.7" stroke-linejoin="round" stroke-dasharray="7.2 7.1"/>
<line x1="428.10" y1="669.03" x2="428.10" y2="687.39" stroke="#a3cc7f" stroke-width="1.3" />
<line x1="462.90" y1="654.06" x2="462.90" y2="687.87" stroke="#a3cc7f" stroke-width="1.3" />
<line x1="497.60" y1="647.78" x2="497.60" y2="679.66" stroke="#a3cc7f" stroke-width="1.3" />
<line x1="568.00" y1="643.92" x2="568.00" y2="674.83" stroke="#a3cc7f" stroke-width="1.3" />
<line x1="672.20" y1="670.97" x2="672.20" y2="690.28" stroke="#a3cc7f" stroke-width="1.3" />
<polyline points="428.10,678.21 462.90,670.97 497.60,663.72 568.00,659.37 672.20,680.62" fill="none" stroke="#a3cc7f" stroke-width="2.3" stroke-linejoin="round" />
<circle cx="428.10" cy="678.21" r="4.55" fill="#a3cc7f" stroke="none" stroke-width="0"/>
<circle cx="462.90" cy="670.97" r="4.55" fill="#a3cc7f" stroke="none" stroke-width="0"/>
<circle cx="497.60" cy="663.72" r="4.55" fill="#a3cc7f" stroke="none" stroke-width="0"/>
<circle cx="568.00" cy="659.37" r="4.55" fill="#a3cc7f" stroke="none" stroke-width="0"/>
<circle cx="672.20" cy="680.62" r="4.55" fill="#a3cc7f" stroke="none" stroke-width="0"/>
<text transform="translate(382.60,656.40) rotate(-90)" font-size="12.75" font-weight="bold" text-anchor="middle">Von Frey</text>
<text transform="translate(396.30,656.40) rotate(-90)" font-size="12.75" font-weight="bold" text-anchor="middle">withdrawal threshold (g)</text>
<text x="550.00" y="784.30" font-size="12.75" text-anchor="middle" font-weight="bold" fill="#000" >Time after ibuprofen injection (hour)</text>
<line x1="559.80" y1="586.10" x2="559.80" y2="603.10" stroke="#a3cc7f" stroke-width="1.3" />
<circle cx="559.80" cy="594.60" r="4.55" fill="#a3cc7f" stroke="none" stroke-width="0"/>
<text x="572.60" y="599.50" font-size="12.75" text-anchor="start" fill="#000" >Ibuprofen (10)</text>
<line x1="552.70" y1="616.90" x2="566.80" y2="616.90" stroke="#cc00cc" stroke-width="1.6" stroke-dasharray="5.3 3"/>
<text x="572.60" y="621.20" font-size="12.75" text-anchor="start" fill="#000" >LIA: 10 min 365 nm</text>
<text x="0.00" y="831.30" font-size="25" text-anchor="start" font-weight="bold" fill="#000" >h</text>
<text x="83.8" y="827.3" font-size="12.75" font-weight="bold"><tspan font-style="italic">Trek1</tspan><tspan font-size="8" dy="-4.5" font-style="italic">-/-</tspan><tspan dy="4.5" font-style="italic"> - Trek2</tspan><tspan font-size="8" dy="-4.5" font-style="italic">-/-</tspan><tspan dy="4.5"> mice</tspan></text>
<use href="#mouse" transform="translate(218.8,813.3) scale(1.0)"/>
<line x1="55.50" y1="846.30" x2="55.50" y2="1016.10" stroke="#000" stroke-width="2.2" />
<line x1="54.40" y1="1015.00" x2="323.80" y2="1015.00" stroke="#000" stroke-width="2.2" />
<line x1="51.50" y1="1015.00" x2="55.50" y2="1015.00" stroke="#000" stroke-width="1.5" />
<text x="50.00" y="1019.50" font-size="12.75" text-anchor="end" fill="#000" >0</text>
<line x1="51.50" y1="930.60" x2="55.50" y2="930.60" stroke="#000" stroke-width="1.5" />
<text x="50.00" y="935.10" font-size="12.75" text-anchor="end" fill="#000" >1</text>
<line x1="51.50" y1="846.20" x2="55.50" y2="846.20" stroke="#000" stroke-width="1.5" />
<text x="50.00" y="850.70" font-size="12.75" text-anchor="end" fill="#000" >2</text>
<line x1="67.50" y1="1015.00" x2="67.50" y2="1019.00" stroke="#000" stroke-width="1.5" />
<text x="67.50" y="1031.30" font-size="12.75" text-anchor="middle" fill="#000" >pre-</text>
<text x="67.50" y="1043.80" font-size="12.75" text-anchor="middle" fill="#000" >LIA</text>
<line x1="102.50" y1="1015.00" x2="102.50" y2="1019.00" stroke="#000" stroke-width="1.5" />
<text x="102.50" y="1031.30" font-size="12.75" text-anchor="middle" fill="#000" >post-</text>
<text x="102.50" y="1043.80" font-size="12.75" text-anchor="middle" fill="#000" >LIA</text>
<line x1="137.30" y1="1015.00" x2="137.30" y2="1019.00" stroke="#000" stroke-width="1.5" />
<text x="137.30" y="1031.30" font-size="12.75" text-anchor="middle" fill="#000" >1</text>
<line x1="207.50" y1="1015.00" x2="207.50" y2="1019.00" stroke="#000" stroke-width="1.5" />
<text x="207.50" y="1031.30" font-size="12.75" text-anchor="middle" fill="#000" >3</text>
<line x1="312.00" y1="1015.00" x2="312.00" y2="1019.00" stroke="#000" stroke-width="1.5" />
<text x="312.00" y="1031.30" font-size="12.75" text-anchor="middle" fill="#000" >6</text>
<line x1="79.10" y1="1020.50" x2="86.10" y2="1009.50" stroke="#000" stroke-width="1.3" />
<line x1="83.50" y1="1020.50" x2="90.50" y2="1009.50" stroke="#000" stroke-width="1.3" />
<line x1="67.50" y1="957.61" x2="67.50" y2="977.86" stroke="#000" stroke-width="1.3" />
<line x1="102.50" y1="947.48" x2="102.50" y2="969.42" stroke="#000" stroke-width="1.3" />
<line x1="137.30" y1="964.36" x2="137.30" y2="974.49" stroke="#000" stroke-width="1.3" />
<line x1="207.50" y1="950.86" x2="207.50" y2="976.18" stroke="#000" stroke-width="1.3" />
<line x1="312.00" y1="958.45" x2="312.00" y2="980.40" stroke="#000" stroke-width="1.3" />
<polyline points="67.50,967.74 102.50,958.45 137.30,969.42 207.50,963.52 312.00,969.42" fill="none" stroke="#000" stroke-width="2.3" stroke-linejoin="round" />
<rect x="63.00" y="963.24" width="9.00" height="9.00" fill="#000"/>
<rect x="98.00" y="953.95" width="9.00" height="9.00" fill="#000"/>
<rect x="132.80" y="964.92" width="9.00" height="9.00" fill="#000"/>
<rect x="203.00" y="959.02" width="9.00" height="9.00" fill="#000"/>
<rect x="307.50" y="964.92" width="9.00" height="9.00" fill="#000"/>
<line x1="67.50" y1="972.80" x2="67.50" y2="977.86" stroke="#c000c0" stroke-width="1.3" />
<line x1="102.50" y1="844.51" x2="102.50" y2="906.97" stroke="#c000c0" stroke-width="1.3" />
<line x1="137.30" y1="856.33" x2="137.30" y2="920.47" stroke="#c000c0" stroke-width="1.3" />
<line x1="207.50" y1="927.22" x2="207.50" y2="962.67" stroke="#c000c0" stroke-width="1.3" />
<line x1="312.00" y1="971.96" x2="312.00" y2="983.77" stroke="#c000c0" stroke-width="1.3" />
<polyline points="67.50,975.33 102.50,875.74 137.30,888.40 207.50,944.95 312.00,977.86" fill="none" stroke="#c000c0" stroke-width="2.3" stroke-linejoin="round" />
<circle cx="67.50" cy="975.33" r="4.55" fill="#c000c0" stroke="none" stroke-width="0"/>
<circle cx="102.50" cy="875.74" r="4.55" fill="#c000c0" stroke="none" stroke-width="0"/>
<circle cx="137.30" cy="888.40" r="4.55" fill="#c000c0" stroke="none" stroke-width="0"/>
<circle cx="207.50" cy="944.95" r="4.55" fill="#c000c0" stroke="none" stroke-width="0"/>
<circle cx="312.00" cy="977.86" r="4.55" fill="#c000c0" stroke="none" stroke-width="0"/>
<text x="102.50" y="846.00" font-size="12" text-anchor="middle" fill="#c000c0" >*</text>
<text x="137.30" y="856.50" font-size="12" text-anchor="middle" fill="#c000c0" >**</text>
<text transform="translate(22.75,930.70) rotate(-90)" font-size="12.75" font-weight="bold" text-anchor="middle">Von Frey</text>
<text transform="translate(35.50,930.70) rotate(-90)" font-size="12.75" font-weight="bold" text-anchor="middle">withdrawal threshold (g)</text>
<text x="190.00" y="1055.50" font-size="12.75" text-anchor="middle" font-weight="bold" fill="#000" >Time after LIA treatment (hour)</text>
<line x1="181.30" y1="855.30" x2="181.30" y2="872.30" stroke="#000" stroke-width="1.3" />
<rect x="176.80" y="859.30" width="9.00" height="9.00" fill="#000"/>
<text x="194.50" y="869.50" font-size="12.75" text-anchor="start" fill="#000" >no LIA (8)</text>
<line x1="181.30" y1="877.80" x2="181.30" y2="894.80" stroke="#c000c0" stroke-width="1.3" />
<circle cx="181.30" cy="886.30" r="4.55" fill="#c000c0" stroke="none" stroke-width="0"/>
<text x="194.50" y="891.30" font-size="12.75" text-anchor="start" fill="#000" >LIA: 10 min 365 nm (8)</text>
<text x="363.30" y="830.70" font-size="25" text-anchor="start" font-weight="bold" fill="#000" >i</text>
<text x="443.8" y="826.5" font-size="12.75" font-weight="bold"><tspan font-style="italic">Trek1</tspan><tspan font-size="8" dy="-4.5" font-style="italic">-/-</tspan><tspan dy="4.5" font-style="italic"> - Trek2</tspan><tspan font-size="8" dy="-4.5" font-style="italic">-/-</tspan><tspan dy="4.5"> mice</tspan></text>
<use href="#mouse" transform="translate(580.3,813.5) scale(1.0)"/>
<line x1="416.10" y1="846.30" x2="416.10" y2="1016.10" stroke="#000" stroke-width="2.2" />
<line x1="415.00" y1="1015.00" x2="685.00" y2="1015.00" stroke="#000" stroke-width="2.2" />
<line x1="412.10" y1="1015.00" x2="416.10" y2="1015.00" stroke="#000" stroke-width="1.5" />
<text x="410.60" y="1019.50" font-size="12.75" text-anchor="end" fill="#000" >0</text>
<line x1="412.10" y1="930.60" x2="416.10" y2="930.60" stroke="#000" stroke-width="1.5" />
<text x="410.60" y="935.10" font-size="12.75" text-anchor="end" fill="#000" >1</text>
<line x1="412.10" y1="846.20" x2="416.10" y2="846.20" stroke="#000" stroke-width="1.5" />
<text x="410.60" y="850.70" font-size="12.75" text-anchor="end" fill="#000" >2</text>
<line x1="428.10" y1="1015.00" x2="428.10" y2="1019.00" stroke="#000" stroke-width="1.5" />
<text x="428.10" y="1031.30" font-size="12.75" text-anchor="middle" fill="#000" ></text>
<line x1="463.00" y1="1015.00" x2="463.00" y2="1019.00" stroke="#000" stroke-width="1.5" />
<text x="463.00" y="1031.30" font-size="12.75" text-anchor="middle" fill="#000" ></text>
<line x1="498.00" y1="1015.00" x2="498.00" y2="1019.00" stroke="#000" stroke-width="1.5" />
<text x="498.00" y="1031.30" font-size="12.75" text-anchor="middle" fill="#000" >1</text>
<line x1="568.00" y1="1015.00" x2="568.00" y2="1019.00" stroke="#000" stroke-width="1.5" />
<text x="568.00" y="1031.30" font-size="12.75" text-anchor="middle" fill="#000" >3</text>
<line x1="672.20" y1="1015.00" x2="672.20" y2="1019.00" stroke="#000" stroke-width="1.5" />
<text x="672.20" y="1031.30" font-size="12.75" text-anchor="middle" fill="#000" >6</text>
<line x1="440.40" y1="1020.50" x2="447.40" y2="1009.50" stroke="#000" stroke-width="1.3" />
<line x1="444.80" y1="1020.50" x2="451.80" y2="1009.50" stroke="#000" stroke-width="1.3" />
<text x="426.90" y="1031.30" font-size="12.75" text-anchor="middle" fill="#000" >pre-</text>
<text x="439.40" y="1043.80" font-size="12.75" text-anchor="end" fill="#000" >treatment</text>
<text x="448.10" y="1031.30" font-size="12.75" text-anchor="start" fill="#000" >post-</text>
<text x="448.10" y="1043.80" font-size="12.75" text-anchor="start" fill="#000" >treatment</text>
<polyline points="428.10,975.33 463.00,875.74 498.00,888.40 568.00,945.79 672.20,977.86" fill="none" stroke="#cc00cc" stroke-width="1.7" stroke-linejoin="round" stroke-dasharray="7.2 7.1"/>
<line x1="428.10" y1="974.49" x2="428.10" y2="994.74" stroke="#000" stroke-width="1.3" />
<line x1="463.00" y1="976.18" x2="463.00" y2="998.12" stroke="#000" stroke-width="1.3" />
<line x1="498.00" y1="970.27" x2="498.00" y2="995.59" stroke="#000" stroke-width="1.3" />
<line x1="568.00" y1="984.62" x2="568.00" y2="1004.87" stroke="#000" stroke-width="1.3" />
<line x1="672.20" y1="985.46" x2="672.20" y2="997.28" stroke="#000" stroke-width="1.3" />
<polyline points="428.10,984.62 463.00,987.15 498.00,982.93 568.00,994.74 672.20,991.37" fill="none" stroke="#000" stroke-width="2.3" stroke-linejoin="round" />
<rect x="423.60" y="980.12" width="9.00" height="9.00" fill="#000"/>
<rect x="458.50" y="982.65" width="9.00" height="9.00" fill="#000"/>
<rect x="493.50" y="978.43" width="9.00" height="9.00" fill="#000"/>
<rect x="563.50" y="990.24" width="9.00" height="9.00" fill="#000"/>
<rect x="667.70" y="986.87" width="9.00" height="9.00" fill="#000"/>
<line x1="428.10" y1="988.84" x2="428.10" y2="998.96" stroke="#5b9bd5" stroke-width="1.3" />
<line x1="463.00" y1="927.22" x2="463.00" y2="969.42" stroke="#5b9bd5" stroke-width="1.3" />
<line x1="498.00" y1="948.32" x2="498.00" y2="982.08" stroke="#5b9bd5" stroke-width="1.3" />
<line x1="568.00" y1="971.96" x2="568.00" y2="988.84" stroke="#5b9bd5" stroke-width="1.3" />
<line x1="672.20" y1="992.21" x2="672.20" y2="1002.34" stroke="#5b9bd5" stroke-width="1.3" />
<polyline points="428.10,993.90 463.00,948.32 498.00,965.20 568.00,980.40 672.20,997.28" fill="none" stroke="#5b9bd5" stroke-width="2.3" stroke-linejoin="round" />
<circle cx="428.10" cy="993.90" r="4.55" fill="#5b9bd5" stroke="none" stroke-width="0"/>
<circle cx="463.00" cy="948.32" r="4.55" fill="#5b9bd5" stroke="none" stroke-width="0"/>
<circle cx="498.00" cy="965.20" r="4.55" fill="#5b9bd5" stroke="none" stroke-width="0"/>
<circle cx="568.00" cy="980.40" r="4.55" fill="#5b9bd5" stroke="none" stroke-width="0"/>
<circle cx="672.20" cy="997.28" r="4.55" fill="#5b9bd5" stroke="none" stroke-width="0"/>
<line x1="428.10" y1="979.55" x2="428.10" y2="999.81" stroke="#a3cc7f" stroke-width="1.3" />
<line x1="463.00" y1="944.10" x2="463.00" y2="982.93" stroke="#a3cc7f" stroke-width="1.3" />
<line x1="498.00" y1="935.66" x2="498.00" y2="984.62" stroke="#a3cc7f" stroke-width="1.3" />
<line x1="568.00" y1="960.98" x2="568.00" y2="996.43" stroke="#a3cc7f" stroke-width="1.3" />
<line x1="672.20" y1="971.11" x2="672.20" y2="996.43" stroke="#a3cc7f" stroke-width="1.3" />
<polyline points="428.10,989.68 463.00,963.52 498.00,960.14 568.00,978.71 672.20,983.77" fill="none" stroke="#a3cc7f" stroke-width="2.3" stroke-linejoin="round" />
<circle cx="428.10" cy="989.68" r="4.55" fill="#a3cc7f" stroke="none" stroke-width="0"/>
<circle cx="463.00" cy="963.52" r="4.55" fill="#a3cc7f" stroke="none" stroke-width="0"/>
<circle cx="498.00" cy="960.14" r="4.55" fill="#a3cc7f" stroke="none" stroke-width="0"/>
<circle cx="568.00" cy="978.71" r="4.55" fill="#a3cc7f" stroke="none" stroke-width="0"/>
<circle cx="672.20" cy="983.77" r="4.55" fill="#a3cc7f" stroke="none" stroke-width="0"/>
<text x="463.00" y="919.50" font-size="12" text-anchor="middle" fill="#5b9bd5" >**</text>
<text x="463.00" y="927.50" font-size="12" text-anchor="middle" fill="#a3cc7f" >*</text>
<text transform="translate(382.70,930.70) rotate(-90)" font-size="12.75" font-weight="bold" text-anchor="middle">Von Frey</text>
<text transform="translate(396.85,930.70) rotate(-90)" font-size="12.75" font-weight="bold" text-anchor="middle">withdrawal threshold (g)</text>
<text x="550.60" y="1056.50" font-size="12.75" text-anchor="middle" font-weight="bold" fill="#000" >Time after treatment (hour)</text>
<line x1="559.80" y1="847.10" x2="559.80" y2="864.10" stroke="#000" stroke-width="1.3" />
<rect x="555.30" y="851.10" width="9.00" height="9.00" fill="#000"/>
<text x="572.60" y="860.20" font-size="12.75" text-anchor="start" fill="#000" >no treatment (10)</text>
<line x1="559.80" y1="868.80" x2="559.80" y2="885.80" stroke="#5b9bd5" stroke-width="1.3" />
<circle cx="559.80" cy="877.30" r="4.55" fill="#5b9bd5" stroke="none" stroke-width="0"/>
<text x="572.60" y="882.40" font-size="12.75" text-anchor="start" fill="#000" >Emla (10)</text>
<line x1="559.80" y1="890.70" x2="559.80" y2="907.70" stroke="#a3cc7f" stroke-width="1.3" />
<circle cx="559.80" cy="899.20" r="4.55" fill="#a3cc7f" stroke="none" stroke-width="0"/>
<text x="572.60" y="904.40" font-size="12.75" text-anchor="start" fill="#000" >Ibuprofen (10)</text>
<line x1="552.70" y1="921.50" x2="566.80" y2="921.50" stroke="#cc00cc" stroke-width="1.6" stroke-dasharray="5.3 3"/>
<text x="572.60" y="925.80" font-size="12.75" text-anchor="start" fill="#000" >LIA: 10 min 365 nm</text>
</svg>
</body></html>
